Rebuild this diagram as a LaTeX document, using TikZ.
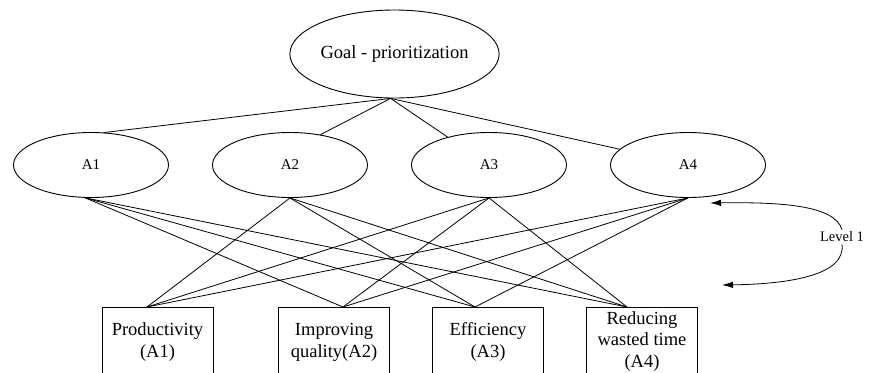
\documentclass[tikz,border=0pt]{standalone}
\usepackage{fontspec}
\setmainfont{Liberation Serif}
\usetikzlibrary{shapes.geometric,arrows.meta,calc}
\begin{document}
\begin{tikzpicture}[x=1pt,y=-1pt,
  oval/.style={ellipse,draw,line width=0.9pt,inner sep=0pt,minimum width=155pt,minimum height=65pt,font=\fontsize{15}{18}\selectfont},
  box/.style={rectangle,draw,line width=0.9pt,minimum width=111pt,minimum height=80pt,anchor=north,inner sep=0pt},
  lbl/.style={align=center,font=\fontsize{18.5}{21.5}\selectfont,anchor=base,inner sep=0pt},
  conn/.style={line width=0.8pt},
  lvlarrow/.style={line width=0.8pt,-{Latex[length=11pt,width=6.5pt]}}]
\useasboundingbox (0,0) rectangle (875,372);
\clip (0,0) rectangle (875,372);
% goal
\node[oval,minimum width=185pt,minimum height=88pt,font=\fontsize{18.5}{22}\selectfont] (G) at (394.5,54) {Goal - prioritization};
% criteria
\node[oval] (A1) at (91,165) {A1};
\node[oval] (A2) at (290,165) {A2};
\node[oval] (A3) at (489,165) {A3};
\node[oval] (A4) at (688,165) {A4};
% alternatives
\node[box] (P) at (157.5,307) {};
\node[box] (Q) at (334,307) {};
\node[box] (E) at (488,307) {};
\node[box] (R) at (642,307) {};
\node[lbl] (tP) at (157.5,357) {Productivity\\(A1)};
\node[lbl] (tQ) at (334,357) {Improving\\quality(A2)};
\node[lbl] (tE) at (488,357) {Efficiency\\(A3)};
\node[lbl] (tR) at (642,367) {Reducing\\wasted time\\(A4)};
\coordinate (pT) at ([xshift=-10.5pt]P.north);
\coordinate (qT) at ([xshift=9pt]Q.north);
\coordinate (eT) at ([xshift=-13pt]E.north);
\coordinate (rT) at ([xshift=-15pt]R.north);
% goal to criteria
\draw[conn] (G.265) -- (A1.68);
\draw[conn] (G.265) -- (A2.45);
\draw[conn] (G.265) -- (A3.146);
\draw[conn] (G.265) -- (A4.167);
% criteria to alternatives (each criterion to the three other alternatives)
\draw[conn] (A1.260) -- (qT);
\draw[conn] (A1.260) -- (eT);
\draw[conn] (A1.260) -- (rT);
\draw[conn] (A2.south) -- (pT);
\draw[conn] (A2.south) -- (eT);
\draw[conn] (A2.south) -- (rT);
\draw[conn] (A3.south) -- (pT);
\draw[conn] (A3.south) -- (qT);
\draw[conn] (A3.south) -- (rT);
\draw[conn] (A4.south) -- (pT);
\draw[conn] (A4.south) -- (qT);
\draw[conn] (A4.south) -- (eT);
% level marker
\node[font=\fontsize{14.5}{17}\selectfont,inner sep=2pt] (Lv) at (842,237) {Level 1};
\coordinate (L1a) at (710,203);
\coordinate (L1b) at (722,285);
\draw[lvlarrow] (Lv.north) .. controls (835,205) and (780,202) .. (L1a);
\draw[lvlarrow] (Lv.south) .. controls (846,275) and (790,284) .. (L1b);
\end{tikzpicture}
\end{document}
